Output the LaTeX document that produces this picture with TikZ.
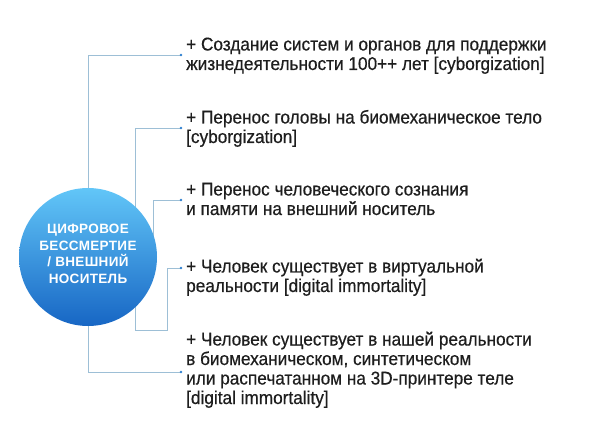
\documentclass[tikz,border=0pt]{standalone}
\usepackage{fontspec}
\setmainfont[FakeStretch=0.93,FakeBold=0.5]{Liberation Sans}
\newfontfamily\hubfont[LetterSpace=2.5]{Liberation Sans}
\definecolor{linkblue}{HTML}{9DBFD6}
\definecolor{dotblue}{HTML}{2F80D0}
\definecolor{hubtop}{HTML}{62C6F8}
\definecolor{hubbottom}{HTML}{1766C4}
\definecolor{itemtext}{HTML}{1E1E1E}

\begin{document}
\begin{tikzpicture}[x=1pt,y=-1pt,
item/.style={anchor=base west, inner sep=0pt, align=left, text=itemtext,
    font=\fontsize{18.5}{19.5}\selectfont},
link/.style={draw=linkblue, line width=0.8pt},
dot/.style={circle, fill=dotblue, inner sep=0pt, minimum size=2.6pt},
hub/.style={circle, minimum size=138pt, inner sep=0pt, top color=hubtop,
    bottom color=hubbottom, draw=none}]
\useasboundingbox (0,0) rectangle (591,443);
\node[item] (t1) at (186,70) {+ Создание систем и органов для поддержки\\жизнедеятельности 100++ лет [cyborgization]};
\node[item] (t2) at (186,143) {+ Перенос головы на биомеханическое тело\\{}[cyborgization]};
\node[item] (t3) at (186,215) {+ Перенос человеческого сознания\\и памяти на внешний носитель};
\node[item] (t4) at (186,292) {+ Человек существует в виртуальной\\реальности [digital immortality]};
\node[item] (t5) at (186,404) {+ Человек существует в нашей реальности\\в биомеханическом, синтетическом\\или распечатанном на 3D-принтере теле\\{}[digital immortality]};
\coordinate (d1) at (181,55);
\coordinate (d2) at (181,128);
\coordinate (d3) at (181,200);
\coordinate (d4) at (181,268);
\coordinate (d5) at (181,372);
\coordinate (k1) at (135,330);
\coordinate (k2) at (167,330);
\coordinate (hc) at (88,257);
\draw[link] (d2) -| (k1) -- (k2) |- (d4);
\draw[link] (hc) |- (d1);
\draw[link] (hc) |- (d5);
\draw[link] (hc) ++(18:69) |- (d3);
\node[hub] (hub) at (hc) {};
\node[font=\hubfont\bfseries\fontsize{13.5}{16.5}\selectfont, text=white, align=center] (hubtext) at (88,254) {ЦИФРОВОЕ\\БЕССМЕРТИЕ\\/ ВНЕШНИЙ\\НОСИТЕЛЬ};
\foreach \d in {d1,d2,d3,d4,d5}
  \node[dot] at (\d) {};
\end{tikzpicture}
\end{document}
